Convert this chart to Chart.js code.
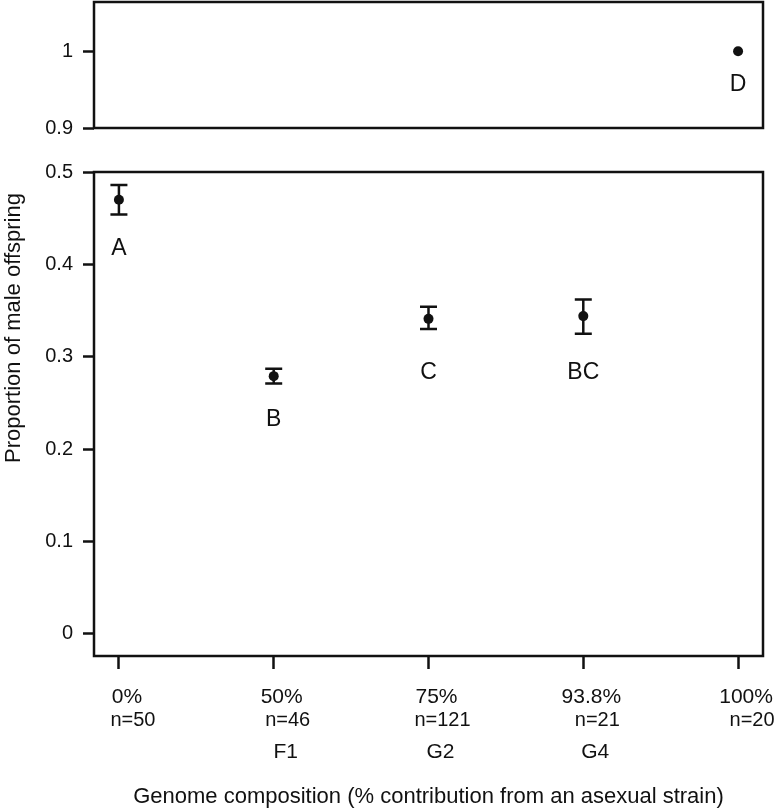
<!DOCTYPE html>
<html>
<head>
<meta charset="utf-8">
<script src="https://cdn.jsdelivr.net/npm/chart.js@4"></script>
<style>
    body { margin: 0; background: #fff; }
    #page { position: relative; width: 779px; height: 810px; overflow: hidden; background: #fff; }
    #topBox { position: absolute; left: 0; top: -20px; width: 779px; height: 170px; }
    #bottomBox { position: absolute; left: 0; top: 150px; width: 779px; height: 660px; }
</style>
</head>
<body>
<div id="page">
    <div id="topBox"><canvas id="topChart"></canvas></div>
    <div id="bottomBox"><canvas id="bottomChart"></canvas></div>
</div>
<script>
Chart.defaults.font.family = "'Liberation Sans', Arial, sans-serif"
Chart.defaults.font.size = 20
Chart.defaults.color = '#111'

const groups = ['0%', '50%', '75%', '93.8%', '100%']
const sampleSizes = ['n=50', 'n=46', 'n=121', 'n=21', 'n=20']
const generations = ['', 'F1', 'G2', 'G4', '']
const proportions = [0.470, 0.279, 0.341, 0.344, 1.0]
const errLow = [0.454, 0.271, 0.330, 0.325, null]
const errHigh = [0.486, 0.287, 0.354, 0.362, null]
const letters = ['A', 'B', 'C', 'BC', 'D']
const letterY = [0.417, 0.232, 0.283, 0.283, 0.956]
const lowerTicks = [0, 0.1, 0.2, 0.3, 0.4, 0.5]
const upperTicks = [0.9, 1]

const ink = '#111'
const font = "'Liberation Sans', Arial, sans-serif"


// error bars, significance letters and the box round each panel
const marksPlugin = {
    id: 'marks',
    beforeDatasetsDraw(chart) {
        const { ctx, scales: { x, y } } = chart
        ctx.save()
        ctx.strokeStyle = ink
        ctx.lineWidth = 2.5
        proportions.forEach((p, i) => {
            if (p < y.min || p > y.max || errLow[i] === null) return
            const px = x.getPixelForValue(i)
            const lo = y.getPixelForValue(errLow[i])
            const hi = y.getPixelForValue(errHigh[i])
            ctx.beginPath()
            ctx.moveTo(px, lo); ctx.lineTo(px, hi)
            ctx.moveTo(px - 8.5, lo); ctx.lineTo(px + 8.5, lo)
            ctx.moveTo(px - 8.5, hi); ctx.lineTo(px + 8.5, hi)
            ctx.stroke()
        })
        ctx.restore()
    },
    afterDatasetsDraw(chart) {
        const { ctx, chartArea, scales: { x, y } } = chart
        ctx.save()
        ctx.fillStyle = ink
        ctx.font = '23px ' + font
        ctx.textAlign = 'center'
        ctx.textBaseline = 'middle'
        proportions.forEach((p, i) => {
            if (p < y.min || p > y.max) return
            ctx.fillText(letters[i], x.getPixelForValue(i), y.getPixelForValue(letterY[i]))
        })
        ctx.strokeStyle = ink
        ctx.lineWidth = 2.5
        ctx.strokeRect(chartArea.left, chartArea.top, chartArea.right - chartArea.left, chartArea.bottom - chartArea.top)
        ctx.restore()
    }
}


// category labels under the x axis and the two axis titles
const textPlugin = {
    id: 'texts',
    afterDraw(chart) {
        const { ctx, chartArea, scales: { x } } = chart
        const base = chartArea.bottom
        ctx.save()
        ctx.fillStyle = ink
        ctx.textAlign = 'center'
        ctx.textBaseline = 'middle'
        groups.forEach((g, i) => {
            const px = x.getPixelForValue(i)
            ctx.font = '21px ' + font
            ctx.fillText(g, px + 8, base + 41)
            ctx.font = '20px ' + font
            ctx.fillText(sampleSizes[i], px + 14, base + 64)
            ctx.font = '21px ' + font
            if (generations[i]) ctx.fillText(generations[i], px + 12, base + 96)
        })
        ctx.font = '22px ' + font
        ctx.fillText('Genome composition (% contribution from an asexual strain)', (chartArea.left + chartArea.right) / 2, base + 141)

        ctx.translate(14, 178)
        ctx.rotate(-Math.PI / 2)
        ctx.fillText('Proportion of male offspring', 0, 0)
        ctx.restore()
    }
}


function yScale(min, max, tickValues) {
    return {
        type: 'linear',
        min,
        max,
        afterBuildTicks: scale => { scale.ticks = tickValues.map(v => ({ value: v })) },
        afterFit: scale => { scale.width = 94 },
        ticks: {
            padding: 10,
            color: ink,
            callback: v => String(v)
        },
        grid: {
            drawOnChartArea: false,
            tickLength: 11,
            tickWidth: 2.5,
            tickColor: ink
        },
        border: { display: false }
    }
}


function pointsIn(min, max) {
    return proportions
        .map((p, i) => ({ x: i, y: p }))
        .filter(pt => pt.y >= min && pt.y <= max)
}


function printUpperPanel() {

    const data = {
        datasets: [{
            data: pointsIn(0.9, 1.064),
            pointRadius: 5,
            pointBackgroundColor: ink,
            pointBorderWidth: 0
        }]
    }

    const options = {
        animation: false,
        responsive: true,
        maintainAspectRatio: false,
        events: [],
        layout: { padding: { top: 22, right: 16, bottom: 20, left: 0 } },
        plugins: {
            legend: { display: false },
            tooltip: { enabled: false }
        },
        scales: {
            x: { type: 'linear', min: -0.161, max: 4.161, display: false },
            y: yScale(0.9, 1.064, upperTicks)
        }
    }

    new Chart('topChart', { type: 'scatter', data, options, plugins: [marksPlugin] })
}


function printLowerPanel() {

    const data = {
        datasets: [{
            data: pointsIn(-0.024, 0.5),
            pointRadius: 5,
            pointBackgroundColor: ink,
            pointBorderWidth: 0
        }]
    }

    const options = {
        animation: false,
        responsive: true,
        maintainAspectRatio: false,
        events: [],
        layout: { padding: { top: 20, right: 16, bottom: 0, left: 0 } },
        plugins: {
            legend: { display: false },
            tooltip: { enabled: false }
        },
        scales: {
            x: {
                type: 'linear',
                min: -0.161,
                max: 4.161,
                afterBuildTicks: scale => { scale.ticks = groups.map((g, i) => ({ value: i })) },
                afterFit: scale => { scale.height = 154 },
                ticks: { callback: () => '' },
                grid: {
                    drawOnChartArea: false,
                    tickLength: 13,
                    tickWidth: 2.5,
                    tickColor: ink
                },
                border: { display: false }
            },
            y: yScale(-0.024, 0.5, lowerTicks)
        }
    }

    new Chart('bottomChart', { type: 'scatter', data, options, plugins: [marksPlugin, textPlugin] })
}


printUpperPanel()
printLowerPanel()
</script>
</body>
</html>
